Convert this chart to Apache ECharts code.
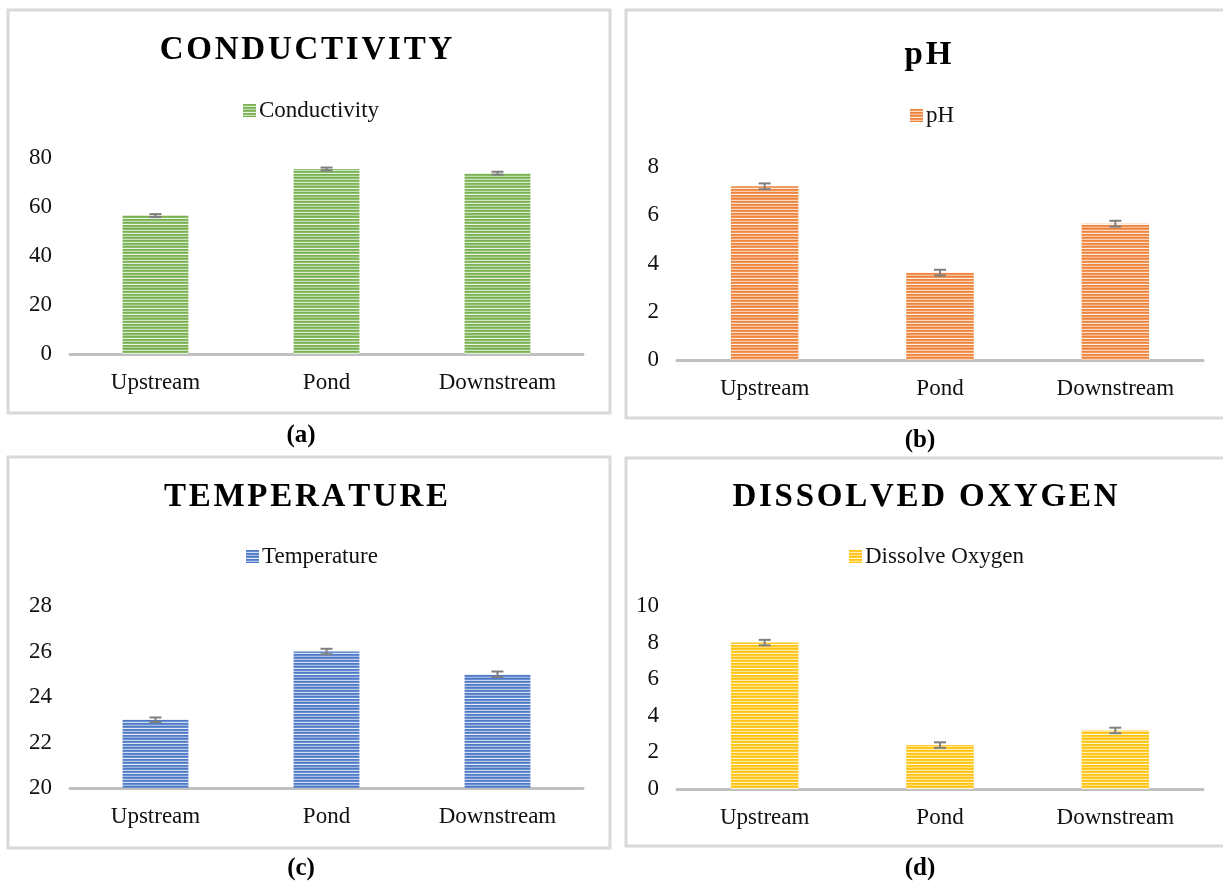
<!DOCTYPE html>
<html>
<head>
<meta charset="utf-8">
<script src="https://cdn.jsdelivr.net/npm/echarts@6/dist/echarts.min.js"></script>
<style>
  html, body { margin: 0; padding: 0; background: #fff; }
  #chart { width: 1223px; height: 885px; }
</style>
</head>
<body>
<div id="chart"></div>
<script>
const categories = ['Upstream', 'Pond', 'Downstream']

const conductivity = [56.5, 75.5, 73.8]
const conductivityErr = [0.6, 0.6, 0.6]
const ph = [7.2, 3.62, 5.65]
const phErr = [0.12, 0.12, 0.12]
const temperature = [23.0, 26.0, 25.0]
const temperatureErr = [0.1, 0.12, 0.12]
const dissolvedOxygen = [8.0, 2.4, 3.2]
const dissolvedOxygenErr = [0.15, 0.15, 0.15]

const serif = '"Liberation Serif", "DejaVu Serif", serif'
const HS = '\u200A' // hair space for the spaced-out titles

// horizontal striped fill, like the excel texture
function stripes(hex) {
  const r = parseInt(hex.slice(1, 3), 16)
  const g = parseInt(hex.slice(3, 5), 16)
  const b = parseInt(hex.slice(5, 7), 16)
  const mix = t => 'rgb(' + Math.round(r + (255 - r) * t) + ',' + Math.round(g + (255 - g) * t) + ',' + Math.round(b + (255 - b) * t) + ')'
  const c = document.createElement('canvas')
  c.width = 4
  c.height = 30
  const ctx = c.getContext('2d')
  const light = [0.75, 0.5, 0.85, 0.6, 0.9, 0.45, 0.7, 0.8, 0.55, 0.65]
  for (let row = 0; row < 30; row++) {
    const k = row % 3
    ctx.fillStyle = k === 2 ? mix(light[Math.floor(row / 3)]) : mix(k === 0 ? 0.05 : 0.2)
    ctx.fillRect(0, row, 4, 1)
  }
  return { image: c, repeat: 'repeat' }
}

function errorBar(params, api) {
  const x = api.value(0)
  const v = api.value(1)
  const e = api.value(2)
  const top = api.coord([x, v + e])
  const bot = api.coord([x, v - e])
  const hw = 6
  const style = { stroke: '#7f7f7f', lineWidth: 2 }
  return {
    type: 'group',
    children: [
      { type: 'line', shape: { x1: top[0], y1: top[1], x2: bot[0], y2: bot[1] }, style: style },
      { type: 'line', shape: { x1: top[0] - hw, y1: top[1], x2: top[0] + hw, y2: top[1] }, style: style },
      { type: 'line', shape: { x1: bot[0] - hw, y1: bot[1], x2: bot[0] + hw, y2: bot[1] }, style: style }
    ]
  }
}

const panels = [
  { name: 'Conductivity', title: 'CONDUCTIVITY', values: conductivity, err: conductivityErr, color: '#70ad47',
    min: 0, max: 80, interval: 20, grid: { left: 70, width: 513, top: 158, height: 196 },
    titlePos: [306, 50], legend: { left: 243, top: 99 }, box: [8, 10, 602, 403], tag: '(a)', tagPos: [301, 436] },
  { name: 'pH', title: 'pH', values: ph, err: phErr, color: '#ed7d31',
    min: 0, max: 8, interval: 2, grid: { left: 677, width: 526, top: 167, height: 193 },
    titlePos: [928, 55], legend: { left: 910, top: 104 }, box: [626, 10, 600, 408], tag: '(b)', tagPos: [920, 441] },
  { name: 'Temperature', title: 'TEMPERATURE', values: temperature, err: temperatureErr, color: '#4472c4',
    min: 20, max: 28, interval: 2, grid: { left: 70, width: 513, top: 606, height: 182 },
    titlePos: [306, 497], legend: { left: 246, top: 545 }, box: [8, 457, 602, 391], tag: '(c)', tagPos: [301, 869] },
  { name: 'Dissolve Oxygen', title: 'DISSOLVED OXYGEN', values: dissolvedOxygen, err: dissolvedOxygenErr, color: '#ffc000',
    min: 0, max: 10, interval: 2, grid: { left: 677, width: 526, top: 606, height: 183 },
    titlePos: [925, 497], legend: { left: 849, top: 545 }, box: [626, 458, 600, 388], tag: '(d)', tagPos: [920, 869] }
]

const chart = echarts.init(document.getElementById('chart'))

const option = {
  backgroundColor: '#fff',
  animation: false,
  grid: [],
  xAxis: [],
  yAxis: [],
  legend: [],
  series: [],
  graphic: []
}

panels.forEach((p, i) => {
  option.grid.push(Object.assign({ containLabel: false }, p.grid))
  option.xAxis.push({
    type: 'category',
    gridIndex: i,
    data: categories,
    axisLine: { lineStyle: { color: '#c0c0c0', width: 3 } },
    axisTick: { show: false },
    axisLabel: { fontFamily: serif, fontSize: 23, color: '#111', margin: 17 }
  })
  option.yAxis.push({
    type: 'value',
    gridIndex: i,
    min: p.min,
    max: p.max,
    interval: p.interval,
    splitLine: { show: false },
    axisLine: { show: false },
    axisTick: { show: false },
    axisLabel: { fontFamily: serif, fontSize: 23, color: '#111', margin: 18 }
  })
  option.legend.push({
    data: [p.name],
    left: p.legend.left,
    top: p.legend.top,
    padding: 0,
    itemWidth: 13,
    itemHeight: 13,
    itemGap: 4,
    icon: 'rect',
    selectedMode: false,
    textStyle: { fontFamily: serif, fontSize: 23, color: '#111', padding: [0, 0, 0, -2] }
  })
  option.series.push({
    name: p.name,
    type: 'bar',
    xAxisIndex: i,
    yAxisIndex: i,
    barWidth: '38.5%',
    itemStyle: { color: stripes(p.color) },
    data: p.values
  })
  option.series.push({
    name: p.name + ' error',
    type: 'custom',
    xAxisIndex: i,
    yAxisIndex: i,
    renderItem: errorBar,
    encode: { x: 0, y: 1 },
    z: 5,
    data: p.values.map((v, k) => [k, v, p.err[k]])
  })
  option.graphic.push({
    type: 'rect',
    shape: { x: p.box[0], y: p.box[1], width: p.box[2], height: p.box[3] },
    style: { fill: 'none', stroke: '#d9d9d9', lineWidth: 3 },
    silent: true
  })
  option.graphic.push({
    type: 'text',
    x: p.titlePos[0],
    y: p.titlePos[1],
    style: {
      text: p.title.split('').join(HS),
      fontFamily: serif,
      fontSize: 33,
      fontWeight: 'bold',
      fill: '#000',
      align: 'center',
      verticalAlign: 'middle'
    }
  })
  option.graphic.push({
    type: 'text',
    x: p.tagPos[0],
    y: p.tagPos[1],
    style: {
      text: p.tag,
      fontFamily: serif,
      fontSize: 25,
      fontWeight: 'bold',
      fill: '#000',
      align: 'center',
      verticalAlign: 'middle'
    }
  })
})

chart.setOption(option)
</script>
</body>
</html>
